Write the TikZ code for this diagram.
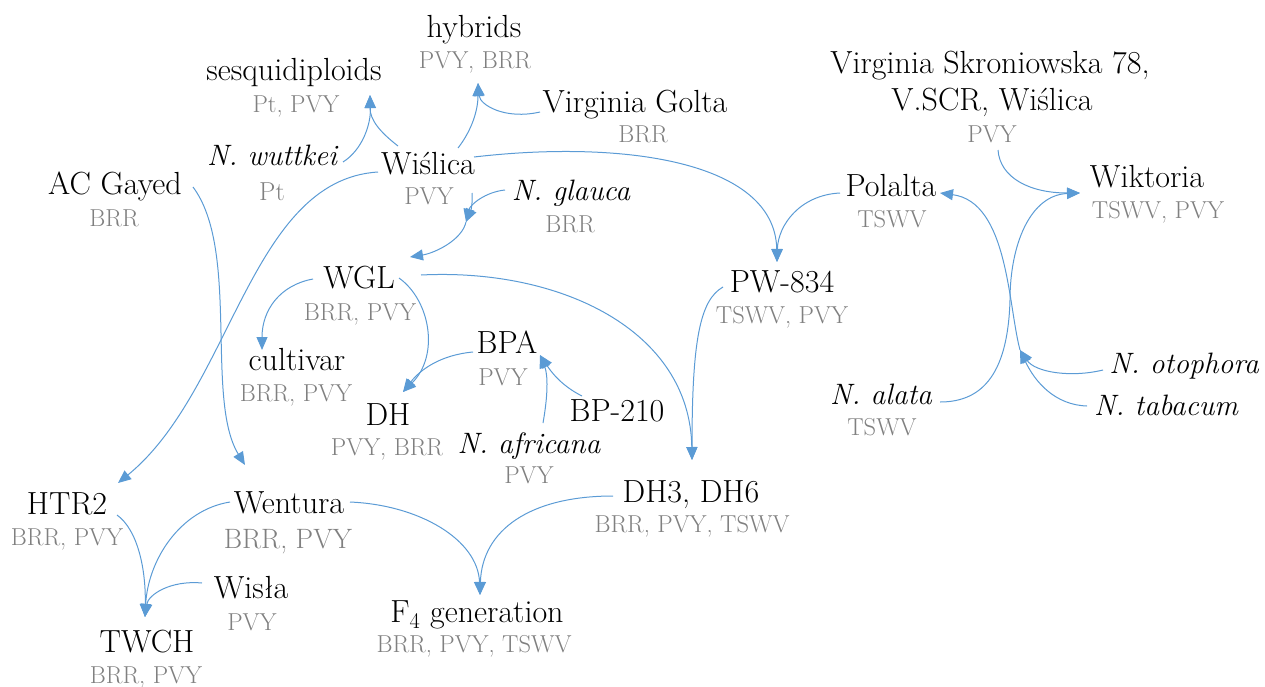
\documentclass[tikz,border=0pt]{standalone}
\usetikzlibrary{arrows.meta}
\definecolor{lineblue}{HTML}{5B9BD5}
\definecolor{subgray}{HTML}{808080}
\tikzset{
  lbl/.style={anchor=base, inner sep=0pt, font=\fontsize{32}{34}\selectfont, text=black},
  sp/.style={anchor=base, inner sep=0pt, font=\fontsize{29.5}{32}\selectfont\itshape, text=black},
  sub/.style={anchor=base, inner sep=0pt, font=\fontsize{24.5}{26}\selectfont, text=subgray},
  bigsub/.style={anchor=base, inner sep=0pt, font=\fontsize{28}{30}\selectfont, text=subgray},
  ptsub/.style={anchor=base, inner sep=0pt, font=\fontsize{26}{28}\selectfont, text=subgray},
  conn/.style={draw=lineblue, line width=1pt},
  arr/.style={conn, -{Triangle[length=13pt,width=11pt]}},
}
\begin{document}
\begin{tikzpicture}[x=1pt,y=-1pt]
\useasboundingbox (0,0) rectangle (1265,686);
% labels
\node[lbl] (hyb) at (474,37) {hybrids};
\node[sub] (hybS) at (475,68) {PVY, BRR};
\node[lbl] (ses) at (294,80) {sesquidiploids};
\node[sub] (sesS) at (296,112) {Pt, PVY};
\node[lbl] (vg) at (635,112) {Virginia Golta};
\node[sub] (vgS) at (643,142) {BRR};
\node[sp] (wut) at (272,165) {N. wuttkei};
\node[ptsub] (wutS) at (272,200) {Pt};
\node[lbl] (wis) at (428,174) {Wiślica};
\node[sub] (wisS) at (429,204) {PVY};
\node[lbl] (acg) at (115,194) {AC Gayed};
\node[sub] (acgS) at (114,226) {BRR};
\node[sp] (gla) at (571,200) {N. glauca};
\node[sub] (glaS) at (570,232) {BRR};
\node[lbl] (vs1) at (990,73) {Virginia Skroniowska 78,};
\node[lbl] (vs2) at (992,110) {V.SCR, Wiślica};
\node[sub] (vsS) at (992,142) {PVY};
\node[lbl] (pol) at (891,196) {Polalta};
\node[sub] (polS) at (892,227) {TSWV};
\node[lbl] (wik) at (1147,187) {Wiktoria};
\node[sub] (wikS) at (1158,218) {TSWV, PVY};
\node[lbl] (wgl) at (359,288) {WGL};
\node[sub] (wglS) at (360,320) {BRR, PVY};
\node[lbl] (pw) at (782,292) {PW-834};
\node[sub] (pwS) at (782,323) {TSWV, PVY};
\node[lbl] (cul) at (297,370) {cultivar};
\node[sub] (culS) at (296,401) {BRR, PVY};
\node[lbl] (bpa) at (507,353) {BPA};
\node[sub] (bpaS) at (503,385) {PVY};
\node[lbl] (dh) at (388,425) {DH};
\node[sub] (dhS) at (387,455) {PVY, BRR};
\node[lbl] (bp2) at (617,421) {BP-210};
\node[sp] (afr) at (529,453) {N. africana};
\node[sub] (afrS) at (529,483) {PVY};
\node[sp] (ala) at (881,404) {N. alata};
\node[sub] (alaS) at (882,435) {TSWV};
\node[sp] (oto) at (1184,373) {N. otophora};
\node[sp] (tab) at (1166,415) {N. tabacum};
\node[lbl] (htr) at (67,514) {HTR2};
\node[sub] (htrS) at (67,545) {BRR, PVY};
\node[lbl] (wen) at (289,513) {Wentura};
\node[bigsub] (wenS) at (288,548) {BRR, PVY};
\node[lbl] (dh3) at (691,502) {DH3, DH6};
\node[sub] (dh3S) at (692,532) {BRR, PVY, TSWV};
\node[lbl] (wis2) at (251,598) {Wisła};
\node[sub] (wis2S) at (252,630) {PVY};
\node[lbl] (tw) at (147,652) {TWCH};
\node[sub] (twS) at (146,683) {BRR, PVY};
\node[lbl] (f4) at (477,622) {F\textsubscript{4} generation};
\node[sub] (f4S) at (474,652) {BRR, PVY, TSWV};
% merge points
\coordinate (m1) at (466,222);
\coordinate (m2) at (1020,350);
% connectors
\draw[arr] ([shift={(71,-3)}]wut.base) .. controls (362,150) and (371,125) .. ([shift={(74,-17)}]sesS.base);
\draw[arr] ([shift={(-30,-28)}]wis.base) .. controls (380,132) and (370,120) .. ([shift={(74,-17)}]sesS.base);
\draw[arr] ([shift={(30,-26)}]wis.base) .. controls (472,130) and (478,110) .. ([shift={(3,15)}]hybS.base);
\draw[arr] ([shift={(-95,0)}]vg.base) .. controls (505,120) and (480,105) .. ([shift={(3,15)}]hybS.base);
\draw[arr] ([shift={(46,-17)}]wis.base) .. controls (620,140) and (775,160) .. ([shift={(-5,-30)}]pw.base);
\draw[arr] ([shift={(-51,-3)}]pol.base) .. controls (800,195) and (778,225) .. ([shift={(-5,-30)}]pw.base);
\draw[arr] ([shift={(78,-7)}]acg.base) .. controls (240,250) and (205,400) .. ([shift={(-44,-48)}]wen.base);
\draw[arr] ([shift={(-50,-2)}]wis.base) .. controls (250,180) and (232,390) .. ([shift={(51,-31)}]htr.base);
\draw[arr] ([shift={(43,-11)}]wisS.base) .. controls (473,205) and (470,213) .. (m1);
\draw[arr] ([shift={(-66,-10)}]gla.base) .. controls (485,192) and (470,205) .. (m1);
\draw[arr] (m1) .. controls (462,240) and (435,253) .. ([shift={(51,-31)}]wgl.base);
\draw[arr] ([shift={(-46,-9)}]wgl.base) .. controls (280,285) and (262,310) .. ([shift={(-35,-20)}]cul.base);
\draw[arr] ([shift={(40,-10)}]wgl.base) .. controls (430,300) and (440,355) .. ([shift={(15,-33)}]dh.base);
\draw[arr] ([shift={(-34,-1)}]bpa.base) .. controls (440,355) and (420,370) .. ([shift={(15,-33)}]dh.base);
\draw[arr] ([shift={(-35,-25)}]bp2.base) .. controls (560,385) and (550,370) .. ([shift={(33,2)}]bpa.base);
\draw[arr] ([shift={(14,-30)}]afr.base) .. controls (548,395) and (548,375) .. ([shift={(33,2)}]bpa.base);
\draw[arr] ([shift={(62,-13)}]wgl.base) .. controls (560,268) and (690,330) .. ([shift={(1,-42)}]dh3.base);
\draw[arr] ([shift={(-59,-5)}]pw.base) .. controls (700,300) and (692,340) .. ([shift={(1,-42)}]dh3.base);
\draw[arr] ([shift={(6,8)}]vsS.base) .. controls (1000,178) and (1030,193) .. ([shift={(-67,6)}]wik.base);
\draw[arr] ([shift={(59,-2)}]ala.base) .. controls (985,402) and (1008,370) .. (1010,300)
   .. controls (1010,245) and (1030,195) .. ([shift={(-67,6)}]wik.base);
\draw[arr] ([shift={(-81,-3)}]oto.base) .. controls (1070,378) and (1035,372) .. (m2);
\draw[arr] ([shift={(-79,-9)}]tab.base) .. controls (1055,405) and (1035,382) .. (m2);
\draw[arr] (m2) .. controls (1008,305) and (1008,202) .. ([shift={(49,-3)}]pol.base);
\draw[arr] ([shift={(50,1)}]htr.base) .. controls (138,530) and (146,570) .. ([shift={(-2,-35)}]tw.base);
\draw[arr] ([shift={(-59,-11)}]wen.base) .. controls (180,510) and (148,560) .. ([shift={(-2,-35)}]tw.base);
\draw[arr] ([shift={(-49,-15)}]wis2.base) .. controls (170,580) and (148,595) .. ([shift={(-2,-35)}]tw.base);
\draw[arr] ([shift={(61,-11)}]wen.base) .. controls (420,505) and (478,540) .. ([shift={(3,-27)}]f4.base);
\draw[arr] ([shift={(-78,-6)}]dh3.base) .. controls (530,496) and (482,530) .. ([shift={(3,-27)}]f4.base);
\end{tikzpicture}
\end{document}
